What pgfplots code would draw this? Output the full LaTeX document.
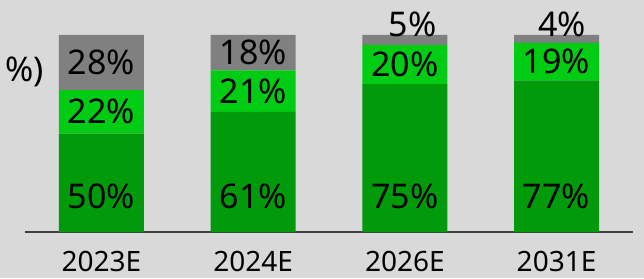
\documentclass[border=0pt]{standalone}
\usepackage{fontspec}
\setmainfont{Noto Sans}
\usepackage{pgfplots}
\pgfplotsset{compat=1.18}
\definecolor{bg}{HTML}{D9D9D9}
\definecolor{dg}{HTML}{009A0A}
\definecolor{lg}{HTML}{00CC14}
\definecolor{gr}{HTML}{808080}
\tikzset{lbl/.style={font=\fontsize{34}{40}\selectfont, inner sep=0pt, anchor=center}}
\begin{document}
\begin{tikzpicture}[x=1pt,y=1pt]
\clip (0,0) rectangle (644,278);
\fill[bg] (0,0) rectangle (644,278);
\node[anchor=east, font=\fontsize{34}{40}\selectfont, inner sep=0pt] at (44,206) {\%)};
\begin{axis}[
  at={(25pt,46pt)}, anchor=south west,
  scale only axis, width=608pt, height=197pt,
  xmin=-0.504, xmax=3.504, ymin=0, ymax=100,
  ybar stacked, bar width=85pt,
  hide y axis,
  axis x line*=bottom,
  x axis line style={draw=black!75, line width=1.3pt, -},
  xtick={0,1,2,3},
  xticklabels={2023E,2024E,2026E,2031E},
  major tick length=0pt,
  xticklabel style={anchor=center, yshift=-29pt, font=\fontsize{28}{32}\selectfont},
  clip=false,
]
\addplot[fill=dg, draw=none] coordinates {(0,50) (1,61) (2,75) (3,77)};
\addplot[fill=lg, draw=none] coordinates {(0,22) (1,21) (2,20) (3,19)};
\addplot[fill=gr, draw=none] coordinates {(0,28) (1,18) (2,5) (3,4)};
\coordinate (a1) at (axis cs:0,18);
\coordinate (a2) at (axis cs:1,18);
\coordinate (a3) at (axis cs:2,18);
\coordinate (a4) at (axis cs:3,18);
\coordinate (b1) at (axis cs:0,61);
\coordinate (b2) at (axis cs:1,71.5);
\coordinate (b3) at (axis cs:2,85);
\coordinate (b4) at (axis cs:3,86.5);
\coordinate (c1) at (axis cs:0,86);
\coordinate (c2) at (axis cs:1,91);
\coordinate (c3) at (axis cs:2.05,105.6);
\coordinate (c4) at (axis cs:3.035,105.6);
\end{axis}
\node[lbl] at (a1) {50\%};
\node[lbl] at (a2) {61\%};
\node[lbl] at (a3) {75\%};
\node[lbl] at (a4) {77\%};
\node[lbl] at (b1) {22\%};
\node[lbl] at (b2) {21\%};
\node[lbl] at (b3) {20\%};
\node[lbl] at (b4) {19\%};
\node[lbl] at (c1) {28\%};
\node[lbl] at (c2) {18\%};
\node[lbl] at (c3) {5\%};
\node[lbl] at (c4) {4\%};
\end{tikzpicture}
\end{document}
